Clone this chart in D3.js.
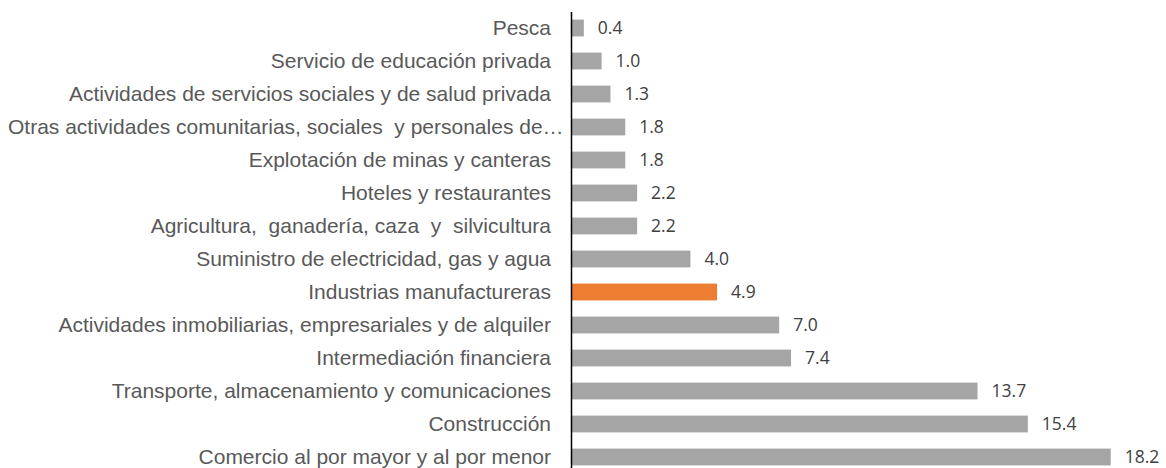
<!DOCTYPE html>
<html>
<head>
<meta charset="utf-8">
<script src="https://cdn.jsdelivr.net/npm/d3@7"></script>
<style>
  body { margin: 0; background: #fff; }
  svg text { white-space: pre; }
</style>
</head>
<body>
<script>
var categories = [
  "Pesca",
  "Servicio de educación privada",
  "Actividades de servicios sociales y de salud privada",
  "Otras actividades comunitarias, sociales  y personales de\u2026",
  "Explotación de minas y canteras",
  "Hoteles y restaurantes",
  "Agricultura,  ganadería, caza  y  silvicultura",
  "Suministro de electricidad, gas y agua",
  "Industrias manufactureras",
  "Actividades inmobiliarias, empresariales y de alquiler",
  "Intermediación financiera",
  "Transporte, almacenamiento y comunicaciones",
  "Construcción",
  "Comercio al por mayor y al por menor"
];
var values = [0.4, 1.0, 1.3, 1.8, 1.8, 2.2, 2.2, 4.0, 4.9, 7.0, 7.4, 13.7, 15.4, 18.2];
var highlight = ["Industrias manufactureras"];

var width = 1166, height = 468;
var margin = {top: 11.5, right: 0, bottom: -5.5, left: 572};

var svg = d3.select("body").append("svg")
    .attr("width", width)
    .attr("height", height);

var x = d3.scaleLinear()
    .domain([0, 1])
    .range([margin.left, margin.left + 29.6]);

var y = d3.scaleBand()
    .domain(categories)
    .range([margin.top, height - margin.bottom])
    .paddingInner(0.49)
    .paddingOuter(0.245);

var rows = categories.map(function(c, i) { return {cat: c, val: values[i]}; });

svg.selectAll("rect.bar")
    .data(rows)
  .enter().append("rect")
    .attr("class", "bar")
    .attr("x", x(0))
    .attr("y", function(d) { return y(d.cat); })
    .attr("width", function(d) { return x(d.val) - x(0); })
    .attr("height", y.bandwidth())
    .attr("fill", function(d) { return highlight.indexOf(d.cat) >= 0 ? "#ED7D31" : "#A5A5A5"; });

svg.selectAll("text.val")
    .data(rows)
  .enter().append("text")
    .attr("class", "val")
    .attr("x", function(d) { return x(d.val) + 14; })
    .attr("y", function(d) { return y(d.cat) + y.bandwidth() / 2; })
    .attr("dy", "0.36em")
    .style("font-family", "'Open Sans', 'Noto Sans', sans-serif")
    .style("font-size", "17.5px")
    .style("fill", "#404040")
    .text(function(d) { return d3.format(".1f")(d.val); });

// category axis
var axis = svg.append("g")
    .attr("transform", "translate(" + (margin.left - 1) + ",0)")
    .call(d3.axisLeft(y).tickSize(0).tickPadding(20));

axis.select(".domain")
    .attr("stroke", "#000")
    .attr("stroke-width", 1.5);

axis.selectAll("text")
    .style("font-family", "'Liberation Sans', Arial, sans-serif")
    .style("font-size", "21px")
    .style("fill", "#595959");

// long labels that would run off the left edge get pushed right (like the truncated one)
axis.selectAll("text").each(function() {
  var t = d3.select(this),
      w = this.getComputedTextLength(),
      start = margin.left - 1 - 20 - w;
  if (start < 8) t.attr("x", -20 + (8 - start));
});
</script>
</body>
</html>
